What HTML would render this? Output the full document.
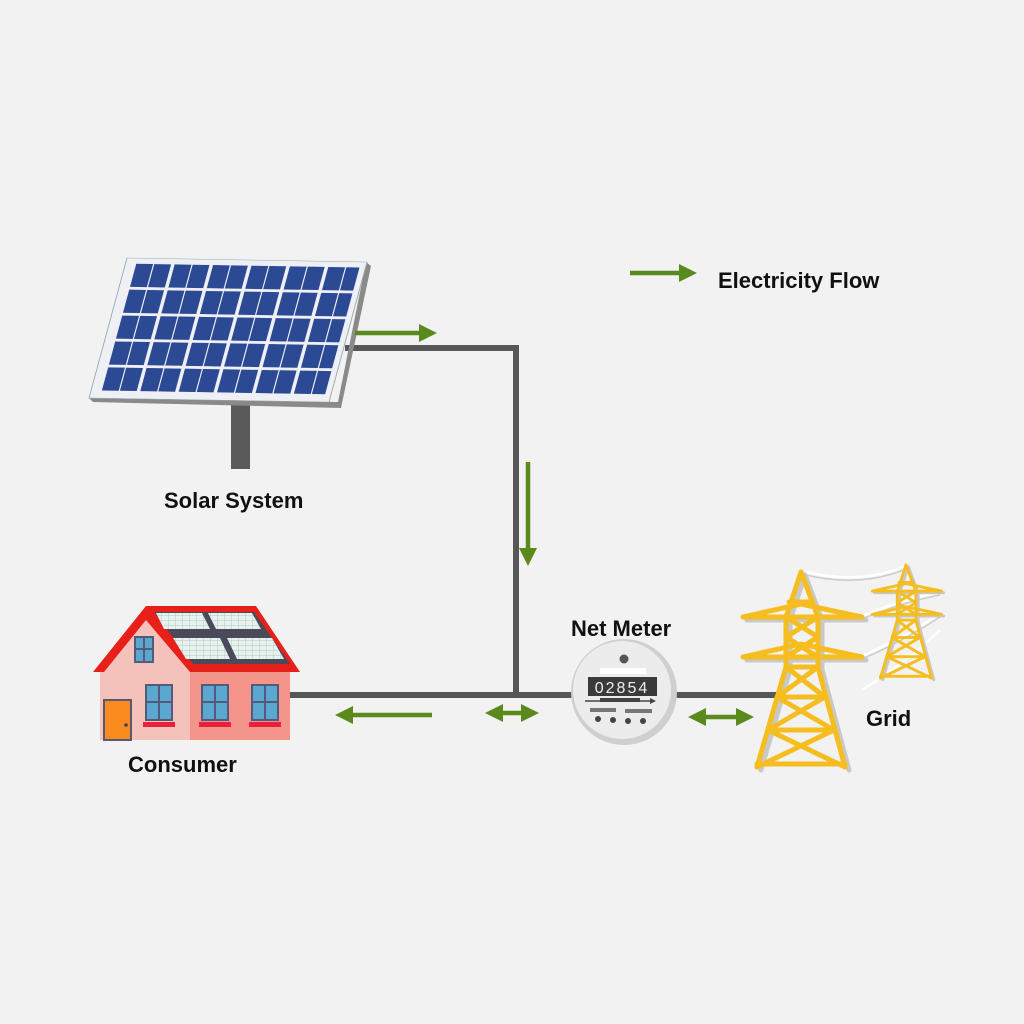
<!DOCTYPE html>
<html><head><meta charset="utf-8"><style>
html,body{margin:0;padding:0;background:#f2f2f2}
svg{display:block}
text{font-family:"Liberation Sans",sans-serif;font-weight:bold;fill:#111}
</style></head><body>
<svg width="1024" height="1024" viewBox="0 0 1024 1024">
<rect width="1024" height="1024" fill="#f2f2f2"/>
<defs>
<marker id="ah" markerWidth="4" markerHeight="4" refX="2" refY="2" orient="auto" markerUnits="strokeWidth"><path d="M0,0 L4,2 L0,4 z" fill="#5a8a1e"/></marker>
<marker id="ahs" markerWidth="4" markerHeight="4" refX="2" refY="2" orient="auto-start-reverse" markerUnits="strokeWidth"><path d="M0,0 L4,2 L0,4 z" fill="#5a8a1e"/></marker>
<pattern id="cells" width="7" height="5" patternUnits="userSpaceOnUse"><rect width="7" height="5" fill="#e6f2ee"/><path d="M0,0 H7 M0,0 V5" stroke="#b5c8c2" stroke-width="1"/></pattern>
<g id="tower" fill="none" stroke-linecap="round">
 <g stroke="#c8c8c8" stroke-width="5" transform="translate(4,3)">
  <path d="M0,0 L-15,45 L-15,95 L-44,195 M0,0 L17,45 L17,95 L44,195 M-58,45 L61,45 M-58,85 L61,85"/>
 </g>
 <g stroke="#f5bd1f" stroke-width="5">
  <path d="M0,0 L-15,45 L-15,95 L-44,195 M0,0 L17,45 L17,95 L44,195"/>
  <path d="M-58,45 L0,32 L61,45 M-58,45 L61,45 M-58,85 L0,72 L61,85 M-58,85 L61,85"/>
  <path d="M-12,30 L12,30 M-15,45 L17,65 M17,45 L-15,65 M-15,65 L17,85 M17,65 L-15,85 M-15,95 L17,95 M-15,95 L24,125 M17,95 L-24,125 M-24,125 L24,125 M-24,125 L33,158 M24,125 L-33,158 M-33,158 L33,158 M-33,158 L44,195 M33,158 L-44,195 M-44,192 L44,192"/>
 </g>
</g>
</defs>

<!-- wires -->
<g fill="none" stroke="#fff" stroke-width="2.5">
<path d="M806,572 Q860,585 906,566"/>
<path d="M862,616 Q900,600 940,592"/>
<path d="M862,656 Q900,640 940,614"/>
<path d="M862,690 Q910,660 940,630"/>
</g>
<g fill="none" stroke="#ccc" stroke-width="1.5">
<path d="M806,575 Q860,588 906,569"/>
<path d="M862,619 Q900,603 940,595"/>
<path d="M862,659 Q900,643 940,617"/>
</g>

<!-- pipes -->
<g stroke="#575757" stroke-width="6" fill="none">
<path d="M345,348 L516,348 L516,695"/>
<path d="M290,695 L780,695"/>
</g>

<!-- solar panel -->
<rect x="231" y="395" width="19" height="74" fill="#5a5a5a"/>
<path d="M93,402 L341,408 L371,266 L366,262 L338,402 L89,398 z" fill="#8a8a8a"/>
<g id="pan" transform="matrix(240,4,-38,140,127,258)">
 <path d="M0,0 L1,0 L1,1 L0,1 z" fill="#eef0f6" stroke="#9aa" stroke-width="0.004"/>
 <g id="r0" fill="#2c4a94">
  <rect x="0.045" y="0.04" width="0.07" height="0.165"/><rect x="0.12" y="0.04" width="0.07" height="0.165"/>
  <rect x="0.205" y="0.04" width="0.07" height="0.165"/><rect x="0.28" y="0.04" width="0.07" height="0.165"/>
  <rect x="0.365" y="0.04" width="0.07" height="0.165"/><rect x="0.44" y="0.04" width="0.07" height="0.165"/>
  <rect x="0.525" y="0.04" width="0.07" height="0.165"/><rect x="0.6" y="0.04" width="0.07" height="0.165"/>
  <rect x="0.685" y="0.04" width="0.07" height="0.165"/><rect x="0.76" y="0.04" width="0.07" height="0.165"/>
  <rect x="0.845" y="0.04" width="0.07" height="0.165"/><rect x="0.92" y="0.04" width="0.055" height="0.165"/>
 </g>
 <use href="#r0" transform="translate(0,0.185)"/>
 <use href="#r0" transform="translate(0,0.37)"/>
 <use href="#r0" transform="translate(0,0.555)"/>
 <use href="#r0" transform="translate(0,0.74)"/>
</g>

<!-- house -->
<g>
 <rect x="100" y="665" width="92" height="75" fill="#f4c1bb"/>
 <rect x="190" y="665" width="100" height="75" fill="#f4958b"/>
 <path d="M100,670 L146,615 L190,670 z" fill="#f4c1bb"/>
 <path d="M93,672 L146,606 L256,606 L300,672 L290,672 L190,672 L146,620 L104,672 z" fill="#e8201a"/>
 <path d="M154,612 L254,612 L290,664 L193,664 z" fill="#4a4a5a"/>
 <g fill="url(#cells)">
  <path d="M156,613 L202,613 L210,629 L164,629 z"/>
  <path d="M208,613 L252,613 L261,629 L216,629 z"/>
  <path d="M173,638 L220,638 L230,659 L186,659 z"/>
  <path d="M227,638 L272,638 L284,659 L237,659 z"/>
 </g>
 <rect x="135" y="637" width="18" height="25" fill="#5aa8d0" stroke="#555a78" stroke-width="2"/>
 <path d="M144,637 V662 M135,649 H153" stroke="#555a78" stroke-width="2"/>
 <g fill="#5aa8d0" stroke="#555a78" stroke-width="2">
  <rect x="146" y="685" width="26" height="35"/><rect x="202" y="685" width="26" height="35"/><rect x="252" y="685" width="26" height="35"/>
 </g>
 <path d="M159,685 V720 M146,702 H172 M215,685 V720 M202,702 H228 M265,685 V720 M252,702 H278" stroke="#555a78" stroke-width="2"/>
 <g fill="#e8203a"><rect x="143" y="722" width="32" height="5"/><rect x="199" y="722" width="32" height="5"/><rect x="249" y="722" width="32" height="5"/></g>
 <rect x="104" y="700" width="27" height="40" fill="#f88a1e" stroke="#555a78" stroke-width="2"/>
 <circle cx="126" cy="725" r="1.8" fill="#444"/>
</g>

<!-- meter -->
<circle cx="624" cy="692" r="53" fill="#cfcfcf"/>
<circle cx="622" cy="690" r="49" fill="#ececec"/>
<circle cx="624" cy="659" r="4.5" fill="#555"/>
<rect x="600" y="668" width="46" height="6" fill="#fff"/>
<rect x="588" y="677" width="69" height="19" fill="#3a3a3a"/>
<text x="622" y="693" font-size="16" text-anchor="middle" style="font-weight:normal;fill:#eee;letter-spacing:2px">02854</text>
<path d="M585,701 L650,701" stroke="#444" stroke-width="1.5"/><path d="M600,700 H640" stroke="#444" stroke-width="4"/>
<path d="M650,698 L656,701 L650,704z" fill="#444"/>
<rect x="590" y="708" width="26" height="4" fill="#777"/><rect x="625" y="709" width="27" height="4" fill="#777"/>
<g fill="#444"><circle cx="598" cy="719" r="3"/><circle cx="613" cy="720" r="3"/><circle cx="628" cy="721" r="3"/><circle cx="643" cy="721" r="3"/></g>

<!-- towers -->
<use href="#tower" transform="translate(801,572)"/>
<use href="#tower" transform="translate(906,565) scale(0.58)"/>

<!-- arrows -->
<g stroke="#5a8a1e" stroke-width="4.5" fill="none">
<path d="M630,273 L688,273" marker-end="url(#ah)"/>
<path d="M355,333 L428,333" marker-end="url(#ah)"/>
<path d="M528,462 L528,557" marker-end="url(#ah)"/>
<path d="M432,715 L344,715" marker-end="url(#ah)"/>
<path d="M494,713 L530,713" marker-start="url(#ahs)" marker-end="url(#ah)"/>
<path d="M697,717 L745,717" marker-start="url(#ahs)" marker-end="url(#ah)"/>
</g>

<text x="718" y="288" font-size="22">Electricity Flow</text>
<text x="164" y="508" font-size="22">Solar System</text>
<text x="128" y="772" font-size="22">Consumer</text>
<text x="571" y="636" font-size="22">Net Meter</text>
<text x="866" y="726" font-size="22">Grid</text>
</svg>
</body></html>
